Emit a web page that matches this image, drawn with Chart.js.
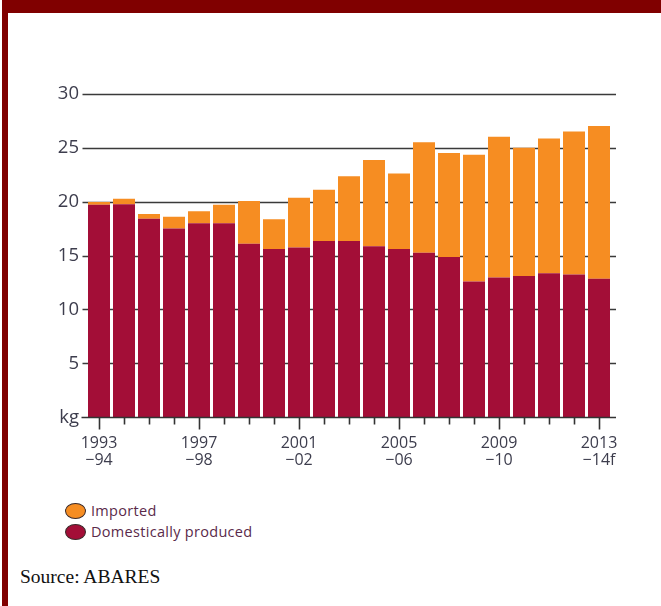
<!DOCTYPE html>
<html>
<head>
<meta charset="utf-8">
<script src="https://cdn.jsdelivr.net/npm/chart.js@4/dist/chart.umd.min.js"></script>
<style>
  html, body { margin: 0; padding: 0; background: #fff; }
  #page { position: relative; width: 661px; height: 606px; overflow: hidden; }
  #topbar { position: absolute; left: 2px; top: 0; width: 659px; height: 13px; background: #800000; }
  #leftbar { position: absolute; left: 2px; top: 0; width: 6px; height: 606px; background: #800000; }
  #wrap { position: absolute; left: 0; top: 0; width: 661px; height: 480px; }
  .leg { position: absolute; left: 65px; height: 16px; font: 14.5px "Open Sans", sans-serif; color: #5a2a4a; letter-spacing: 0.3px; }
  .leg span.dot { position: absolute; left: 0; top: 0; width: 19px; height: 14px; border-radius: 50%; border: 1.2px solid #3a2a2a; }
  .leg span.txt { position: absolute; left: 26px; top: -2px; white-space: nowrap; }
  #source { position: absolute; left: 20px; top: 566px; font: 19.5px "Liberation Serif", serif; color: #111; }
</style>
</head>
<body>
<div id="page">
  <div id="wrap"><canvas id="myChart" width="661" height="480"></canvas></div>
  <div id="topbar"></div>
  <div id="leftbar"></div>
  <div class="leg" style="top:503px"><span class="dot" style="background:#f68d22"></span><span class="txt">Imported</span></div>
  <div class="leg" style="top:524px"><span class="dot" style="background:#a30e37"></span><span class="txt">Domestically produced</span></div>
  <div id="source">Source: ABARES</div>
</div>
<script>
'use strict';

// 年度
const years = ['1993–94', '1994–95', '1995–96', '1996–97', '1997–98', '1998–99', '1999–00',
  '2000–01', '2001–02', '2002–03', '2003–04', '2004–05', '2005–06', '2006–07', '2007–08',
  '2008–09', '2009–10', '2010–11', '2011–12', '2012–13', '2013–14'];

// x軸ラベル (4年ごと)
const tickLabels = {
  0: ['1993', '−94'],
  4: ['1997', '−98'],
  8: ['2001', '−02'],
  12: ['2005', '−06'],
  16: ['2009', '−10'],
  20: ['2013', '−14f']
};

// kg
const domestic = [19.7, 19.75, 18.4, 17.5, 18.0, 18.0, 16.1, 15.6, 15.75, 16.35, 16.35,
  15.85, 15.6, 15.25, 14.85, 12.6, 12.95, 13.1, 13.35, 13.25, 12.85];
const imported = [0.25, 0.5, 0.45, 1.1, 1.1, 1.7, 3.95, 2.75, 4.6, 4.75, 6.0,
  8.0, 7.0, 10.25, 9.65, 11.75, 13.05, 11.9, 12.5, 13.25, 14.15];

const yTicks = [0, 5, 10, 15, 20, 25, 30];

// グリッド線と目盛り
const gridPlugin = {
  id: 'gridLines',
  beforeDatasetsDraw(chart) {
    const { ctx, chartArea, scales } = chart;
    ctx.save();
    ctx.strokeStyle = '#3a3a3a';
    ctx.lineWidth = 1.7;
    yTicks.forEach(v => {
      if (v === 0) return;
      const y = Math.round(scales.y.getPixelForValue(v)) + 0.5;
      ctx.beginPath();
      ctx.moveTo(chartArea.left - 4, y);
      ctx.lineTo(chartArea.right + 4.5, y);
      ctx.stroke();
    });
    ctx.restore();
  },
  afterDatasetsDraw(chart) {
    const { ctx, chartArea, scales } = chart;
    ctx.save();
    ctx.strokeStyle = '#333';
    ctx.lineWidth = 1.6;
    const y0 = Math.round(scales.y.getPixelForValue(0)) + 0.5;
    ctx.beginPath();
    ctx.moveTo(chartArea.left - 5, y0);
    ctx.lineTo(chartArea.right + 4.5, y0);
    ctx.stroke();
    years.forEach((_, i) => {
      const x = Math.round(scales.x.getPixelForValue(i)) + 0.5;
      ctx.beginPath();
      ctx.moveTo(x, y0);
      ctx.lineTo(x, y0 + (i % 4 === 0 ? 12 : 7));
      ctx.stroke();
    });
    ctx.restore();
  }
};

const ctx = document.getElementById('myChart').getContext('2d');

new Chart(ctx, {
  type: 'bar',
  data: {
    labels: years,
    datasets: [
      {
        label: 'Domestically produced',
        data: domestic,
        backgroundColor: '#a30e37'
      },
      {
        label: 'Imported',
        data: imported,
        backgroundColor: '#f68d22'
      }
    ]
  },
  options: {
    responsive: false,
    animation: false,
    categoryPercentage: 1,
    barPercentage: 0.88,
    layout: {
      padding: { top: 93.7, right: 49.5, left: 0, bottom: 0 }
    },
    plugins: {
      legend: { display: false },
      tooltip: { enabled: false }
    },
    scales: {
      x: {
        stacked: true,
        afterFit: s => { s.height = 62.7; },
        grid: { display: false, drawTicks: false },
        border: { display: false },
        ticks: {
          autoSkip: false,
          maxRotation: 0,
          padding: 18,
          color: '#3d3d4d',
          font: { family: 'Open Sans', size: 16, lineHeight: 1.05 },
          callback: (value, index) => tickLabels[index] || ''
        }
      },
      y: {
        stacked: true,
        min: 0,
        max: 30,
        afterFit: s => { s.width = 86.5; },
        grid: { display: false, drawTicks: false },
        border: { display: false },
        ticks: {
          stepSize: 5,
          padding: 7.5,
          color: '#3d3d4d',
          font: { family: 'Open Sans', size: 18.5 },
          callback: value => (value === 0 ? 'kg' : value)
        }
      }
    }
  },
  plugins: [gridPlugin]
});
</script>
</body>
</html>
